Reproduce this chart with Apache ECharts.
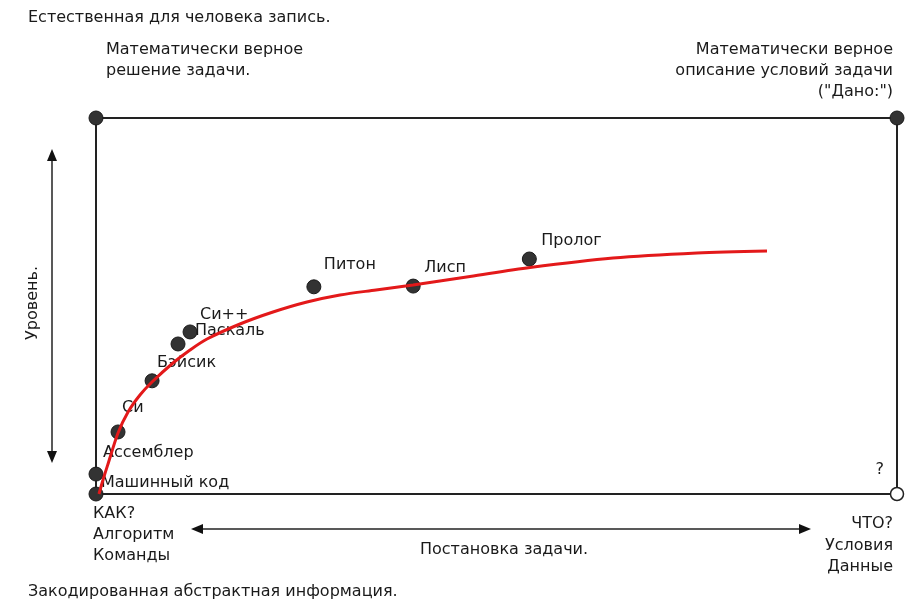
<!DOCTYPE html>
<html><head><meta charset="utf-8">
<script src="https://cdn.jsdelivr.net/npm/echarts@6/dist/echarts.min.js"></script>
<style>html,body{margin:0;padding:0;background:#fff}#c{width:913px;height:606px}</style>
</head><body><div id="c"></div>
<script>
// ---- data ----
const langNames = ['Машинный код','Ассемблер','Си','Бэйсик','Паскаль','Си++','Питон','Лисп','Пролог'];
const langX = [0, 0, 2.75, 7.0, 10.24, 11.74, 27.2, 39.6, 54.1];
const langY = [0, 5.3, 16.5, 30.1, 39.9, 43.1, 55.1, 55.3, 62.5];
const curveX = [0.37, 0.87, 1.50, 2.75, 4.00, 5.49, 6.99, 9.61, 11.74, 13.86, 17.98, 22.10, 26.34, 30.46, 34.96, 39.58, 46.69, 54.18, 64.54, 75.03, 83.77];
const curveY = [0, 3.72, 7.98, 16.22, 21.81, 26.33, 29.79, 34.84, 38.30, 41.22, 45.21, 48.40, 51.06, 52.93, 54.26, 55.59, 57.85, 60.24, 62.77, 64.10, 64.63];
const cornerX = [0, 100];
const cornerY = [100, 100];
const openCornerX = [100];
const openCornerY = [0];

// ---- styles ----
const FONT = '"DejaVu Sans", Verdana, sans-serif';
const TXT = '#1a1a1a';
const FS = 16;
const labelOffsets = [[5,-11],[7,-21],[4,-24],[5,-18],[17,-13],[10,-17],[10,-22],[11,-18],[12,-18]];

const chart = echarts.init(document.getElementById('c'));
const langData = langNames.map((n,i)=>({
  name:n, value:[langX[i], langY[i]],
  label:{offset:labelOffsets[i]}
}));
function txt(x,y,s,align){
  return {type:'text', x:x, y:y, style:{text:s, fill:TXT, font:FS+'px '+FONT, textAlign:align||'left', textVerticalAlign:'middle'}};
}
const dotStyle = {color:'#333', borderColor:'#1a1a1a', borderWidth:1, opacity:1};
const option = {
  backgroundColor:'#fff',
  animation:false,
  grid:{left:96, right:16, top:118, bottom:112, show:true, borderColor:'#222', borderWidth:2, backgroundColor:'transparent'},
  xAxis:{type:'value', min:0, max:100, show:false},
  yAxis:{type:'value', min:0, max:100, show:false},
  series:[
    {type:'line', data:curveX.map((x,i)=>[x,curveY[i]]), smooth:0.3, symbol:'none',
     lineStyle:{color:'#e3191a', width:3}, z:3},
    {type:'scatter', data:langData, symbolSize:14,
     itemStyle:dotStyle,
     label:{show:true, position:'inside', align:'left', verticalAlign:'middle',
            formatter:p=>p.name, color:TXT, fontSize:FS, fontFamily:FONT,
            textBorderWidth:0, textShadowBlur:0},
     z:2},
    {type:'scatter', data:cornerX.map((x,i)=>[x,cornerY[i]]), symbolSize:14,
     itemStyle:dotStyle, z:4},
    {type:'scatter', data:openCornerX.map((x,i)=>[x,openCornerY[i]]), symbolSize:13,
     itemStyle:{color:'#fff', borderColor:'#222', borderWidth:1.5, opacity:1}, z:4}
  ],
  graphic:[
    txt(28,18,'Естественная для человека запись.'),
    txt(106,50,'Математически верное'),
    txt(106,71,'решение задачи.'),
    txt(893,50,'Математически верное','right'),
    txt(893,71,'описание условий задачи','right'),
    txt(893,92,'("Дано:")','right'),
    txt(884,470,'?','right'),
    txt(93,514,'КАК?'),
    txt(93,535,'Алгоритм'),
    txt(93,556,'Команды'),
    txt(893,524,'ЧТО?','right'),
    txt(893,546,'Условия','right'),
    txt(893,567,'Данные','right'),
    txt(420,550,'Постановка задачи.'),
    txt(28,592,'Закодированная абстрактная информация.'),
    {type:'text', x:33, y:303, rotation:Math.PI/2,
     style:{text:'Уровень.', fill:TXT, font:FS+'px '+FONT, textAlign:'center', textVerticalAlign:'middle'}},
    // vertical arrow
    {type:'line', shape:{x1:52,y1:158,x2:52,y2:454}, style:{stroke:'#222', lineWidth:1.5}},
    {type:'polygon', shape:{points:[[52,149],[47,161],[57,161]]}, style:{fill:'#111'}},
    {type:'polygon', shape:{points:[[52,463],[47,451],[57,451]]}, style:{fill:'#111'}},
    // horizontal arrow
    {type:'line', shape:{x1:200,y1:529,x2:802,y2:529}, style:{stroke:'#222', lineWidth:1.5}},
    {type:'polygon', shape:{points:[[191,529],[203,524],[203,534]]}, style:{fill:'#111'}},
    {type:'polygon', shape:{points:[[811,529],[799,524],[799,534]]}, style:{fill:'#111'}}
  ]
};
chart.setOption(option);
</script></body></html>
